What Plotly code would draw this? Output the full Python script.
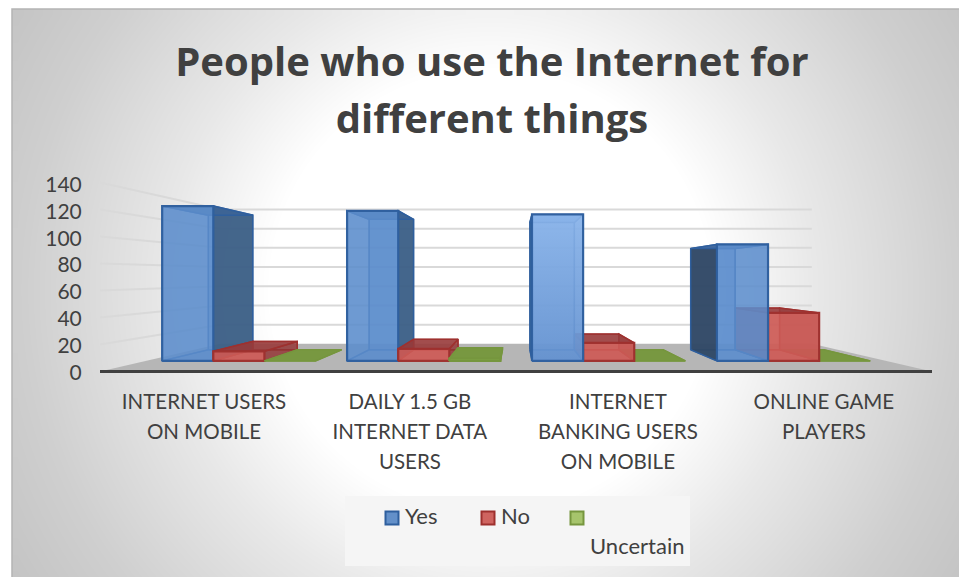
import numpy as np
import plotly.graph_objects as go

# Survey counts per category
categories = ["INTERNET USERS<br>ON MOBILE", "DAILY 1.5 GB<br>INTERNET DATA<br>USERS",
              "INTERNET<br>BANKING USERS<br>ON MOBILE", "ONLINE GAME<br>PLAYERS"]
series_names = ["Yes", "No", "Uncertain"]
yes_values = [129, 125, 122, 97]
no_values = [8, 10, 15, 40]
uncertain_values = [0, 2, 0, 0]
value_ticks = [0, 20, 40, 60, 80, 100, 120, 140]

W, H = 959, 577

# Perspective box: front plane in canvas pixels, depth expressed as a scale factor
FRONT_LEFT, FRONT_RIGHT = 100.0, 932.0
FLOOR_Y, TOP_Y = 371.5, 182.5
VAN_X, VAN_Y = 516.0, 275.8
AXIS_MAX = 140.0
S_WALL, S_BAR_FRONT, S_BAR_REAR = 0.711, 0.889, 0.773
CAT_W = (FRONT_RIGHT - FRONT_LEFT) / 4
BAR_W = 57.5 / CAT_W
BAR_GAP = 18 / CAT_W


def project(cat_pos, value, s):
    """Map category position, value and depth scale to canvas pixels."""
    x = FRONT_LEFT + cat_pos * CAT_W
    y = FLOOR_Y - value * (FLOOR_Y - TOP_Y) / AXIS_MAX
    return VAN_X + (x - VAN_X) * s, VAN_Y + (y - VAN_Y) * s


def poly(corners):
    pts = [project(*c) for c in corners]
    pts.append(pts[0])
    return [p[0] for p in pts], [p[1] for p in pts]


fig = go.Figure()

# Card background: radial fade from white to grey
gx = np.arange(17, W + 20, 10)
gy = np.arange(14, H + 20, 10)
radius = np.hypot(*np.meshgrid(gx - 490, gy - 290))
r_stops = [0, 220, 325, 465, 570]
g_stops = [255, 255, 232, 207, 194]
fig.add_trace(go.Heatmap(
    x=gx, y=gy, z=radius, zmin=0, zmax=570, zsmooth="best", showscale=False, hoverinfo="skip",
    colorscale=[[r / 570, f"rgb({g},{g},{g})"] for r, g in zip(r_stops, g_stops)],
))
fig.add_trace(go.Scatter(x=[12, 12, W], y=[H, 9, 9], mode="lines", showlegend=False, hoverinfo="skip",
                         line=dict(color="#b4b4b4", width=1.5)))

# Pale panel behind the legend
fig.add_trace(go.Scatter(x=[345, 690, 690, 345, 345], y=[496, 496, 566, 566, 496], mode="lines", fill="toself",
                         fillcolor="#f5f5f5", line=dict(width=0), showlegend=False, hoverinfo="skip"))

# Floor
fx, fy = poly([(0, 0, 1), (4, 0, 1), (4, 0, S_WALL), (0, 0, S_WALL)])
fig.add_trace(go.Scatter(x=fx, y=fy, mode="lines", fill="toself", fillcolor="#b6b6b6",
                         line=dict(width=0), showlegend=False, hoverinfo="skip"))

# Gridlines on the left and back walls
for v in value_ticks:
    if v == 0:
        continue
    pts = [project(0, v, 1), project(0, v, S_WALL), project(4, v, S_WALL)]
    fig.add_trace(go.Scatter(x=[p[0] for p in pts], y=[p[1] for p in pts], mode="lines",
                             line=dict(color="#d9d9d9", width=2), showlegend=False, hoverinfo="skip"))


def add_face(corners, fill, edge, width=2.0):
    xs, ys = poly(corners)
    paint = dict(fillgradient=fill) if isinstance(fill, dict) else dict(fillcolor=fill)
    fig.add_trace(go.Scatter(x=xs, y=ys, mode="lines", fill="toself", **paint,
                             line=dict(color=edge, width=width), showlegend=False, hoverinfo="skip"))


def add_bar(pos, value, style):
    l, r = pos, pos + BAR_W
    n, f = S_BAR_REAR, S_BAR_FRONT
    front, rear, side_l, side_r, top, floor, edge = style
    if value > 0:
        add_face([(l, 0, n), (r, 0, n), (r, value, n), (l, value, n)], rear, edge, 1.2)
    add_face([(l, 0, n), (r, 0, n), (r, 0, f), (l, 0, f)], floor, edge, 1.2)
    if value > 0:
        add_face([(l, 0, n), (l, 0, f), (l, value, f), (l, value, n)], side_l, edge, 1.5)
        add_face([(r, 0, n), (r, 0, f), (r, value, f), (r, value, n)], side_r, edge, 1.5)
    add_face([(l, value, n), (r, value, n), (r, value, f), (l, value, f)], top, edge, 1.5)
    if value > 0:
        add_face([(l, 0, f), (r, 0, f), (r, value, f), (l, value, f)], front, edge, 2.2)


def blue_style(i):
    edge = "rgba(46,95,158,0.95)"
    if i < 2:
        return ("rgba(92,141,204,0.88)", "rgba(92,141,204,0.55)", "rgba(92,141,204,0.1)", "rgba(58,92,130,0.9)",
                "rgba(60,100,150,0.9)", "rgba(92,141,204,0.4)", edge)
    if i == 2:
        shaded = dict(type="vertical", colorscale=[[0, "rgba(100,146,208,0.92)"], [1, "rgba(138,180,234,0.92)"]])
        return (shaded, "rgba(118,166,226,0.5)", "rgba(60,100,150,0.9)", "rgba(118,166,226,0.3)",
                "rgba(118,166,226,0.9)", "rgba(92,141,204,0.4)", edge)
    return ("rgba(92,141,204,0.85)", "rgba(92,141,204,0.55)", "rgba(48,72,100,0.95)", "rgba(92,141,204,0.15)",
            "rgba(70,110,165,0.9)", "rgba(92,141,204,0.4)", edge)


red_edge = "rgba(158,48,46,0.95)"
red_style = ("rgba(206,92,88,0.88)", "rgba(190,80,78,0.45)", "rgba(140,50,50,0.6)", "rgba(140,50,50,0.7)",
             "rgba(150,60,60,0.85)", "rgba(190,80,78,0.5)", red_edge)
green_style = ("rgba(140,180,80,0.9)", "rgba(120,150,64,0.6)", "rgba(110,140,60,0.7)", "rgba(110,140,60,0.7)",
               "rgba(120,152,64,0.95)", "rgba(120,152,64,0.9)", "rgba(118,150,62,1)")

# Bars nearest the vanishing column are painted last so they overlap the outer ones
for i in range(4):
    start = i + BAR_GAP
    parts = [(start, yes_values[i], blue_style(i)),
             (start + BAR_W, no_values[i], red_style),
             (start + 2 * BAR_W, uncertain_values[i], green_style)]
    if i >= 2:
        parts.reverse()
    for pos, val, style in parts:
        add_bar(pos, val, style)

# Category baseline
bx, by = zip(project(0, 0, 1), project(4, 0, 1))
fig.add_trace(go.Scatter(x=bx, y=by, mode="lines", line=dict(color="#404040", width=3),
                         showlegend=False, hoverinfo="skip"))

# Value and category axes carrying the tick labels
fig.add_trace(go.Scatter(x=[0.5, 1.5, 2.5, 3.5], y=[None] * 4, xaxis="x2", yaxis="y2", mode="markers",
                         showlegend=False, hoverinfo="skip"))

# Legend keys, laid out by hand because the last label wraps under its swatch
text_color = "#404040"
swatches = [("#6390c9", "#2e5f9e"), ("#cf6460", "#9e302e"), ("#a6c46c", "#76963e")]
key_x = [392, 488, 577]
key_y = 518
for name, (fc, lc), kx in zip(series_names, swatches, key_x):
    wrapped = name == "Uncertain"
    fig.add_trace(go.Scatter(x=[kx], y=[key_y], mode="markers", name=name, showlegend=False, hoverinfo="skip",
                             marker=dict(symbol="square", size=13, color=fc, line=dict(color=lc, width=2))))
    fig.add_trace(go.Scatter(x=[kx + 13], y=[key_y + (30 if wrapped else 0)], mode="text",
                             text=[name], textposition="middle right", showlegend=False, hoverinfo="skip",
                             textfont=dict(size=22, color=text_color)))

label_ticks = [f'<span style="font-size:20.5px">{c}</span>' for c in categories]

fig.update_layout(
    width=W, height=H, autosize=False,
    margin=dict(l=0, r=0, t=0, b=0),
    paper_bgcolor="white", plot_bgcolor="rgba(0,0,0,0)",
    font=dict(family="Lato", color=text_color, size=19.5),
    title=dict(text='<b><span style="font-size:40px">People who use the Internet for<br>different things</span></b>',
               font=dict(family="Open Sans", size=44, color=text_color),
               x=0.513, xanchor="center", xref="paper", y=0.868, yanchor="top", automargin=False,
               pad=dict(t=0)),
    xaxis=dict(domain=[0, 1], range=[0, W], visible=False, fixedrange=True, automargin=False),
    yaxis=dict(domain=[0, 1], range=[H, 0], visible=False, fixedrange=True, automargin=False),
    xaxis2=dict(domain=[FRONT_LEFT / W, FRONT_RIGHT / W], range=[0, 4], anchor="y2",
                tickvals=[0.5, 1.49, 2.49, 3.48], ticktext=label_ticks, showgrid=False, zeroline=False,
                ticks="outside", ticklen=8, tickcolor="rgba(0,0,0,0)", showline=False, automargin=False,
                tickfont=dict(size=23, color=text_color), tickangle=0, fixedrange=True),
    yaxis2=dict(domain=[1 - 372.5 / H, 1 - 184.5 / H], range=[0, AXIS_MAX], anchor="x2",
                tickvals=value_ticks, showgrid=False, zeroline=False, showline=False, automargin=False,
                ticks="outside", ticklen=13, tickcolor="rgba(0,0,0,0)",
                tickfont=dict(size=21, color=text_color), fixedrange=True),
    showlegend=False,
)
fig.write_html("out.html")
